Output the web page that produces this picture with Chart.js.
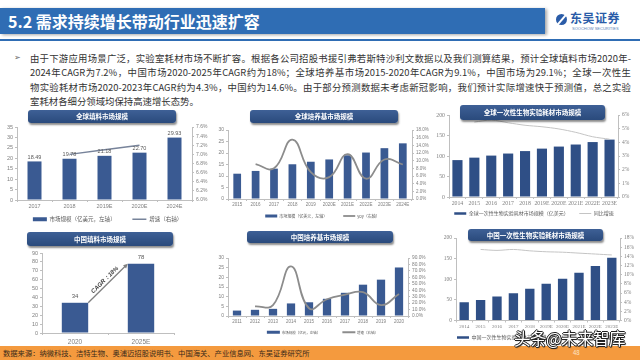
<!DOCTYPE html>
<html lang="zh">
<head>
<meta charset="utf-8">
<title>需求持续增长带动行业迅速扩容</title>
<script src="https://cdn.jsdelivr.net/npm/chart.js@4.4.1/dist/chart.umd.min.js"></script>
<style>
  html, body { margin: 0; padding: 0; }
  body { width: 640px; height: 360px; position: relative; overflow: hidden; background: #fff;
         font-family: "Noto Sans CJK SC", "Noto Sans", sans-serif; }
  .abs { position: absolute; }
  #bar { left: 0; top: 8px; width: 545px; height: 26px; background: #2f6db4; box-shadow: 2px 1px 3px rgba(0,0,0,.35); }
  #bar span { position: absolute; left: 8px; top: 0; line-height: 26px; color: #fff; font-size: 16px; font-weight: bold; }
  #rule { left: 0; top: 39px; width: 640px; height: 2px; background: #2f6db4; }
  #logo { left: 556px; top: 12px; width: 80px; height: 24px; }
  #logo .ic { position: absolute; left: 0; top: 2px; width: 11px; height: 11px; border-radius: 50%; background: #2a5ca8; }
  #logo .ic:after { content: ""; position: absolute; left: 5px; top: -1px; width: 2px; height: 13px; background: #fff; transform: rotate(40deg); }
  #logo .nm { position: absolute; left: 14px; top: -3px; font-size: 12px; font-weight: bold; color: #2a5ca8; letter-spacing: 0.5px; }
  #logo .en { position: absolute; left: 16px; top: 14px; font-size: 4px; color: #5a7fb8; font-family: "Liberation Sans", sans-serif; }
  .bul { left: 14px; top: 53px; font-size: 8px; color: #666; font-family: "DejaVu Sans", sans-serif; }
  .ln { position: absolute; left: 30px; width: 601px; font-size: 9.4px; line-height: 11px; color: #333;
        white-space: nowrap; text-align: justify; text-align-last: justify; }
  .ttl { position: absolute; background: linear-gradient(#3e6096, #2a4a7c); border-radius: 3px;
         box-shadow: 1px 2px 2px rgba(0,0,0,.45); color: #fff; font-weight: bold; font-size: 6.5px;
         text-align: center; z-index: 2; }
  canvas { position: absolute; }
  #foot { left: 0; top: 346px; width: 640px; height: 14px; background: #f49a3e; z-index: 3; }
  #foot span { position: absolute; left: 3px; top: 0; line-height: 14px; font-size: 7.3px; color: #3a2a1a; }
  #foot b { position: absolute; left: 573px; top: 0; line-height: 14px; font-size: 6px; font-weight: normal; color: #fde7cc; }
  #wm { left: 514px; top: 326px; font-size: 16.5px; color: #fff; z-index: 4; letter-spacing: -0.5px;
        text-shadow: 1px 0 0 #222, -1px 0 0 #222, 0 1px 0 #222, 0 -1px 0 #222, 1px 1px 1px #222; }
</style>
</head>
<body>
<div id="bar" class="abs"><span>5.2 需求持续增长带动行业迅速扩容</span></div>
<div id="rule" class="abs"></div>
<div id="logo" class="abs"><div class="ic"></div><div class="nm">东吴证券</div><div class="en">SOOCHOW SECURITIES</div></div>

<div class="abs bul">➢</div>
<div class="ln" style="top:52.5px">由于下游应用场景广泛，实验室耗材市场不断扩容。根据各公司招股书援引弗若斯特沙利文数据以及我们测算结果，预计全球填料市场2020年-</div>
<div class="ln" style="top:67px">2024年CAGR为7.2%，中国市场2020-2025年CAGR约为18%；全球培养基市场2015-2020年CAGR为9.1%，中国市场为29.1%；全球一次性生</div>
<div class="ln" style="top:81.5px">物实验耗材市场2020-2023年CAGR约为4.3%，中国约为14.6%。由于部分预测数据未考虑新冠影响，我们预计实际增速快于预测值，总之实验</div>
<div class="ln" style="top:96px; text-align-last:left">室耗材各细分领域均保持高速增长态势。</div>

<div class="ttl" style="left:28px; top:110px; width:148px; height:13px; line-height:13px">全球填料市场规模</div>
<div class="ttl" style="left:250px; top:110px; width:148px; height:13px; line-height:13px">全球培养基市场规模</div>
<div class="ttl" style="left:460px; top:105px; width:145px; height:15px; line-height:15px">全球一次性生物实验耗材市场规模</div>
<div class="ttl" style="left:27px; top:232px; width:146px; height:14px; line-height:14px">中国填料市场规模</div>
<div class="ttl" style="left:247px; top:231px; width:146px; height:12px; line-height:12px">中国培养基市场规模</div>
<div class="ttl" style="left:468px; top:229px; width:135px; height:12px; line-height:12px">中国一次性生物实验耗材市场规模</div>

<canvas id="c1" width="215" height="112" style="left:0;top:120px"></canvas>
<canvas id="c2" width="215" height="108" style="left:215px;top:120px"></canvas>
<canvas id="c3" width="212" height="118" style="left:428px;top:108px"></canvas>
<canvas id="c4" width="215" height="106" style="left:0;top:240px"></canvas>
<canvas id="c5" width="215" height="99" style="left:215px;top:245px"></canvas>
<canvas id="c6" width="212" height="118" style="left:428px;top:232px"></canvas>

<div id="foot" class="abs"><span>数据来源：纳微科技、洁特生物、奥浦迈招股说明书、中国海关、产业信息网、东吴证券研究所</span><b>48</b></div>
<div id="wm" class="abs">头条@未来智库</div>

<script>
// 全球填料市场规模（亿美元）
const gfYears = ['2017', '2018', '2019E', '2020E', '2024E'];
const gfSize = [18.49, 19.78, 21.18, 22.70, 29.93];
const gfGrowth = [null, 7.0, 7.1, 7.2, null];

// 全球培养基市场规模（亿美元）
const gmYears = ['2015', '2016', '2017', '2018', '2019', '2020E', '2021E', '2022E', '2023E', '2024E'];
const gmSize = [11.0, 12.2, 13.2, 15.1, 16.2, 17.2, 19.0, 20.2, 22.1, 24.2];
const gmYoy = [null, 9.1, 8.0, 15.5, 7.0, 5.7, 11.7, 5.3, 10.3, 9.0];

// 全球一次性生物实验耗材市场规模（亿美元）
const gdYears = ['2014', '2015', '2016', '2017', '2018', '2019E', '2020E', '2021E', '2022E', '2023E'];
const gdSize = [90, 96, 101, 106, 112, 118, 123, 128, 134, 140];
const gdYoy = [null, 5.48, 5.63, 5.43, 5.25, 5.14, 4.98, 4.73, 4.41, 4.23];

// 中国填料市场规模
const cfYears = ['2020', '2025E'];
const cfSize = [34, 78];
const cfCagr = 'CAGR：18%';

// 中国培养基市场规模（亿元）
const cmYears = ['2011', '2012', '2013', '2014', '2015', '2016', '2017', '2018', '2019', '2020'];
const cmSize = [2.8, 3.2, 3.7, 6.5, 7.1, 8.9, 12.0, 16.2, 18.8, 25.1];
const cmYoy = [null, 15, 17, 77, 12, 26, 33, 37, 17, 34];

// 中国一次性生物实验耗材市场规模（亿元）
const cdYears = ['2014', '2015', '2016', '2017', '2018', '2019E', '2020E', '2021E', '2022E', '2023E'];
const cdSize = [44, 50, 58, 66, 77, 89, 101.5, 115.5, 132, 152];
const cdYoy = [null, 15.5, 15.3, 15.5, 15.2, 15.0, 14.9, 14.7, 14.5, 14.3];

const BAR = '#3a5a92';
const AXIS = '#bfbfbf';
const TXT = '#7f7f7f';
const SANS = "'Liberation Sans', 'Noto Sans', sans-serif";
const SERIF = "'Liberation Serif', 'DejaVu Serif', serif";
const CJK = "'Noto Sans CJK SC', sans-serif";

function yScale(o) {
    return {
        position: o.pos || 'left',
        min: o.min, max: o.max,
        ticks: {
            stepSize: o.step, color: TXT, font: o.font, padding: 2, autoSkip: false,
            callback: o.fmt || function (v) { return v; }
        },
        grid: { drawOnChartArea: false, tickLength: 2, color: AXIS },
        border: { color: AXIS },
        afterFit: function (s) { s.width = o.w; }
    };
}

function xScale(o) {
    return {
        ticks: { color: TXT, font: o.font, padding: o.pad || 1, autoSkip: false, maxRotation: 0, minRotation: 0 },
        grid: { drawOnChartArea: false, tickLength: 2, color: AXIS, offset: true },
        border: { color: AXIS },
        afterFit: function (s) { s.height = o.h; }
    };
}

function legendOpts(size, pad, pw, bh) {
    return {
        display: true,
        position: 'bottom',
        labels: {
            usePointStyle: true, pointStyleWidth: pw, boxHeight: bh, padding: pad,
            color: '#595959', font: { family: CJK, size: size },
            sort: function (a, b) { return a.datasetIndex - b.datasetIndex; }
        }
    };
}

const pct1 = function (v) { return v.toFixed(1) + '%'; };
const pct0 = function (v) { return v.toFixed(0) + '%'; };

// values above bars
const barLabels = {
    id: 'barLabels',
    afterDatasetsDraw(chart, args, opts) {
        const ctx = chart.ctx;
        const ds = chart.data.datasets[0];
        ctx.save();
        ctx.font = opts.font;
        ctx.fillStyle = '#595959';
        ctx.textAlign = 'center';
        ctx.textBaseline = 'bottom';
        chart.getDatasetMeta(0).data.forEach(function (bar, i) {
            ctx.fillText(opts.fmt(ds.data[i]), bar.x, bar.y - opts.gap);
        });
        ctx.restore();
    }
};

// CAGR arrow between the two bars
const cagrArrow = {
    id: 'cagrArrow',
    afterDatasetsDraw(chart) {
        const ctx = chart.ctx;
        const bars = chart.getDatasetMeta(0).data;
        const a = bars[0], b = bars[1];
        const x0 = a.x + a.width / 2, y0 = a.y;
        const x1 = b.x - b.width / 2, y1 = b.y;
        const ang = Math.atan2(y1 - y0, x1 - x0);
        ctx.save();
        ctx.strokeStyle = '#7f7f7f';
        ctx.fillStyle = '#7f7f7f';
        ctx.lineWidth = 1.3;
        ctx.beginPath();
        ctx.moveTo(x0, y0);
        ctx.lineTo(x1 - 3 * Math.cos(ang), y1 - 3 * Math.sin(ang));
        ctx.stroke();
        ctx.beginPath();
        ctx.moveTo(x1, y1);
        ctx.lineTo(x1 - 5 * Math.cos(ang - 0.45), y1 - 5 * Math.sin(ang - 0.45));
        ctx.lineTo(x1 - 5 * Math.cos(ang + 0.45), y1 - 5 * Math.sin(ang + 0.45));
        ctx.closePath();
        ctx.fill();
        ctx.translate((x0 + x1) / 2, (y0 + y1) / 2);
        ctx.rotate(ang);
        ctx.fillStyle = '#404040';
        ctx.font = 'italic bold 6px ' + SANS;
        ctx.textAlign = 'center';
        ctx.textBaseline = 'bottom';
        ctx.fillText(cfCagr, 0, -1.5);
        ctx.restore();
    }
};

const base = { responsive: false, animation: false, maintainAspectRatio: false, events: [] };

//global packing
new Chart(document.getElementById('c1'), {
    type: 'bar',
    data: {
        labels: gfYears,
        datasets: [{
            label: '市场规模（亿美元，左轴）\u3000\u3000\u3000',
            data: gfSize, yAxisID: 'y', backgroundColor: BAR,
            barPercentage: 0.4, categoryPercentage: 1, pointStyle: 'rect', order: 1
        }, {
            type: 'line', label: '增速（右轴）',
            data: gfGrowth, yAxisID: 'y1', borderColor: '#77839a', backgroundColor: '#77839a',
            borderWidth: 1.5, pointRadius: 0, pointStyle: 'line', tension: 0, order: 0
        }]
    },
    options: Object.assign({}, base, {
        layout: { padding: { top: 7, left: 0, right: 0, bottom: 0 } },
        scales: {
            x: xScale({ font: { family: SANS, size: 5.5 }, h: 13.5 }),
            y: yScale({ min: 0, max: 35, step: 5, w: 17, font: { family: SANS, size: 5.5 } }),
            y1: yScale({ pos: 'right', min: 6, max: 7.6, step: 0.2, w: 23, fmt: pct1, font: { family: SANS, size: 5 } })
        },
        plugins: {
            legend: legendOpts(5.5, 3, 14, 4),
            tooltip: { enabled: false },
            barLabels: { font: '5.5px ' + SANS, gap: 1.5, fmt: function (v) { return v.toFixed(2); } }
        }
    }),
    plugins: [barLabels]
});

//global media
new Chart(document.getElementById('c2'), {
    type: 'bar',
    data: {
        labels: gmYears,
        datasets: [{
            label: '市场规模（亿美元，左轴）\u3000\u3000\u3000\u3000',
            data: gmSize, yAxisID: 'y', backgroundColor: BAR,
            barPercentage: 0.42, categoryPercentage: 1, pointStyle: 'rect', order: 1
        }, {
            type: 'line', label: 'yoy（右轴）',
            data: gmYoy, yAxisID: 'y1', borderColor: '#8c8c8c', backgroundColor: '#8c8c8c',
            borderWidth: 1.8, pointRadius: 0, pointStyle: 'line', tension: 0.45, order: 0
        }]
    },
    options: Object.assign({}, base, {
        layout: { padding: { top: 10, left: 0, right: 0, bottom: 0 } },
        scales: {
            x: xScale({ font: { family: SANS, size: 4.5 }, h: 13 }),
            y: yScale({ min: 0, max: 30, step: 5, w: 13, font: { family: SANS, size: 5 } }),
            y1: yScale({ pos: 'right', min: 0, max: 18, step: 2, w: 18, fmt: pct1, font: { family: SANS, size: 4.5 } })
        },
        plugins: { legend: legendOpts(4, 2, 12, 3), tooltip: { enabled: false } }
    })
});

//global disposables
new Chart(document.getElementById('c3'), {
    type: 'bar',
    data: {
        labels: gdYears,
        datasets: [{
            label: '全球一次性生物实验耗材市场规模（亿美元）\u3000\u3000',
            data: gdSize, yAxisID: 'y', backgroundColor: '#2f4f86',
            barPercentage: 0.6, categoryPercentage: 1, pointStyle: 'rect', order: 1
        }, {
            type: 'line', label: '同比增速',
            data: gdYoy, yAxisID: 'y1', borderColor: '#c4c4c4', backgroundColor: '#c4c4c4',
            borderWidth: 1, pointRadius: 0, pointStyle: 'line', tension: 0.3, order: 0
        }]
    },
    options: Object.assign({}, base, {
        layout: { padding: { top: 7, left: 0, right: 0, bottom: 0 } },
        scales: {
            x: xScale({ font: { family: SERIF, size: 5.8 }, h: 11 }),
            y: yScale({ min: 0, max: 200, step: 50, w: 21, font: { family: SERIF, size: 5.8 } }),
            y1: yScale({ pos: 'right', min: 0, max: 6, step: 1, w: 22, fmt: pct0, font: { family: SERIF, size: 5.5 } })
        },
        plugins: { legend: legendOpts(5, 3, 12, 2.5), tooltip: { enabled: false } }
    })
});

//china packing
new Chart(document.getElementById('c4'), {
    type: 'bar',
    data: {
        labels: cfYears,
        datasets: [{ label: '中国填料市场规模', data: cfSize, backgroundColor: BAR, barPercentage: 0.4, categoryPercentage: 1 }]
    },
    options: Object.assign({}, base, {
        layout: { padding: { top: 13, left: 0, right: 41, bottom: 0 } },
        scales: {
            x: xScale({ font: { family: SANS, size: 6.5 }, h: 13, pad: 3 }),
            y: yScale({ min: 0, max: 90, step: 10, w: 42, font: { family: SANS, size: 5.5 } })
        },
        plugins: {
            legend: { display: false },
            tooltip: { enabled: false },
            barLabels: { font: '6px ' + SANS, gap: 3, fmt: function (v) { return String(v); } }
        }
    }),
    plugins: [barLabels, cagrArrow]
});

//china media
new Chart(document.getElementById('c5'), {
    type: 'bar',
    data: {
        labels: cmYears,
        datasets: [{
            label: '市场规模（亿元，左轴）\u3000\u3000\u3000\u3000\u3000\u3000',
            data: cmSize, yAxisID: 'y', backgroundColor: BAR,
            barPercentage: 0.46, categoryPercentage: 1, pointStyle: 'rect', order: 1
        }, {
            type: 'line', label: '增速（右轴）',
            data: cmYoy, yAxisID: 'y1', borderColor: '#8c8c8c', backgroundColor: '#8c8c8c',
            borderWidth: 1.8, pointRadius: 0, pointStyle: 'line', tension: 0.45, order: 0
        }]
    },
    options: Object.assign({}, base, {
        layout: { padding: { top: 13, left: 0, right: 0, bottom: 0 } },
        scales: {
            x: xScale({ font: { family: SANS, size: 4.5 }, h: 11.5 }),
            y: yScale({ min: 0, max: 30, step: 5, w: 13, font: { family: SANS, size: 5 } }),
            y1: yScale({ pos: 'right', min: 0, max: 90, step: 10, w: 22, fmt: pct1, font: { family: SANS, size: 4.8 } })
        },
        plugins: { legend: legendOpts(3.5, 3, 13, 3), tooltip: { enabled: false } }
    })
});

//china disposables
new Chart(document.getElementById('c6'), {
    type: 'bar',
    data: {
        labels: cdYears,
        datasets: [{
            label: '中国一次性生物实验耗材市场规模（亿元）\u3000\u3000',
            data: cdSize, yAxisID: 'y', backgroundColor: '#2f4f86',
            barPercentage: 0.57, categoryPercentage: 1, pointStyle: 'rect', order: 1
        }, {
            type: 'line', label: '同比增速',
            data: cdYoy, yAxisID: 'y1', borderColor: '#c4c4c4', backgroundColor: '#c4c4c4',
            borderWidth: 1, pointRadius: 0, pointStyle: 'line', tension: 0.3, order: 0
        }]
    },
    options: Object.assign({}, base, {
        layout: { padding: { top: 6, left: 0, right: 0, bottom: 0 } },
        scales: {
            x: xScale({ font: { family: SERIF, size: 5 }, h: 12 }),
            y: yScale({ min: 0, max: 200, step: 50, w: 28, font: { family: SERIF, size: 5.5 } }),
            y1: yScale({ pos: 'right', min: 0, max: 18, step: 2, w: 20, fmt: pct0, font: { family: SERIF, size: 5.5 } })
        },
        plugins: { legend: legendOpts(5, 2.5, 12, 2.5), tooltip: { enabled: false } }
    })
});
</script>
</body>
</html>
